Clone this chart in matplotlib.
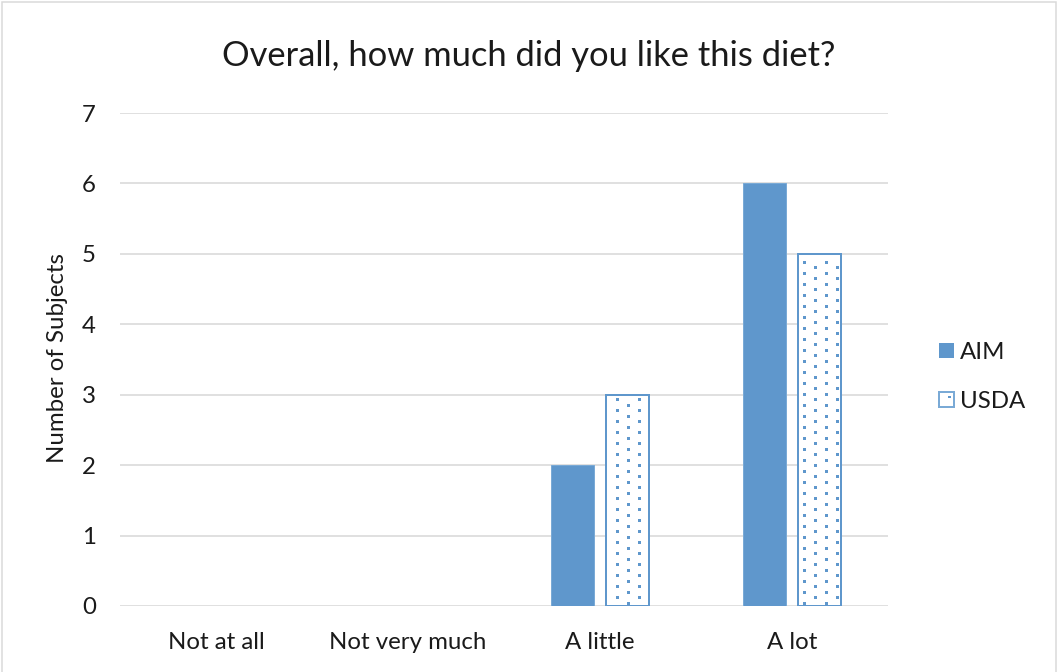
import matplotlib
matplotlib.use("Agg")
import matplotlib.pyplot as plt
from matplotlib.patches import Rectangle
from matplotlib.legend_handler import HandlerBase
import numpy as np

# Survey data
categories = ["Not at all", "Not very much", "A little", "A lot"]
aim_counts = [0, 0, 2, 6]
usda_counts = [0, 0, 3, 5]
series_names = ["AIM", "USDA"]
y_ticks = [0, 1, 2, 3, 4, 5, 6, 7]
title = "Overall, how much did you like this diet?"
y_label = "Number of Subjects"

DPI = 100
W, H = 1058, 672


def px(size):
    """Convert a pixel size to points at the figure dpi."""
    return size * 72.0 / DPI


BLUE = "#5F97CC"
LIGHT_BLUE = "#7AAAD6"
GRID = "#D9D9D9"
TEXT = "#1A1A1A"
FONT = "Lato"

plt.rcParams["font.family"] = [FONT, "DejaVu Sans"]

fig = plt.figure(figsize=(W / DPI, H / DPI), dpi=DPI)
fig.patch.set_facecolor("white")

# Outer chart frame
fig.patches.append(Rectangle((2 / W, -0.01), 1 - 4 / W, 1.01 - 2 / H,
                             transform=fig.transFigure, fill=False,
                             edgecolor=GRID, linewidth=px(1.5), zorder=0))

left, right = 120 / W, 888 / W
bottom, top = 1 - 606 / H, 1 - 113 / H
ax = fig.add_axes([left, bottom, right - left, top - bottom])

x = np.arange(len(categories))
bar_w = 0.22
offset = 0.143

aim_bars = ax.bar(x - offset, aim_counts, width=bar_w, color=BLUE,
                  edgecolor=LIGHT_BLUE, linewidth=px(1.0), zorder=3)
usda_bars = ax.bar(x + offset, usda_counts, width=bar_w, facecolor="white",
                   edgecolor=BLUE, linewidth=px(2.0), zorder=3)

# empty categories get no outline
for bars in (aim_bars, usda_bars):
    for patch in bars.patches:
        if patch.get_height() == 0:
            patch.set_visible(False)

ax.set_xlim(-0.5, len(categories) - 0.5)
ax.set_ylim(0, 7)
ax.set_yticks(y_ticks)
ax.set_yticklabels([str(v) for v in y_ticks])
ax.set_xticks(x)
ax.set_xticklabels(categories)

ax.grid(axis="y", color=GRID, linewidth=px(1.6), zorder=0)
ax.set_axisbelow(True)
for s in ax.spines.values():
    s.set_visible(False)
ax.tick_params(axis="both", length=0, labelsize=px(24), colors=TEXT)
ax.tick_params(axis="y", pad=px(24))
ax.tick_params(axis="x", pad=px(26))

# Dotted fill for the USDA bars: columns 11 px apart, alternate columns
# shifted by half a step, clipped to each bar's interior.
fig.canvas.draw()
step = 11.0
inset = 3.0
to_data = ax.transData.inverted()
for patch in usda_bars.patches:
    if not patch.get_visible():
        continue
    bb = patch.get_window_extent()
    x0, x1 = bb.x0 + inset, bb.x1 - inset
    y0, y1 = bb.y0 + inset, bb.y1 - inset
    pts = []
    k0 = int(np.floor(x0 / step))
    k1 = int(np.ceil(x1 / step))
    for k in range(k0, k1 + 1):
        cx = k * step + 1.0
        if not (x0 <= cx <= x1):
            continue
        phase = 3.0 if k % 2 == 0 else 8.5
        # rows measured from the top of the image
        ys_img = np.arange(phase, H, step)
        ys = H - ys_img
        for cy in ys:
            if y0 <= cy <= y1:
                pts.append((cx, cy))
    if pts:
        d = to_data.transform(np.array(pts))
        ax.scatter(d[:, 0], d[:, 1], s=px(3.0) ** 2, marker="s", color=BLUE,
                   linewidths=0, zorder=4, clip_on=False)

fig.text(529 / W, 1 - 56 / H, title, ha="center", va="center",
         fontsize=px(34.5), color=TEXT)
fig.text(57 / W, 1 - 358 / H, y_label, ha="center", va="center",
         rotation=90, fontsize=px(24), color=TEXT)


class SquareHandler(HandlerBase):
    """Legend key drawn as a small square, optionally with one dot."""

    def __init__(self, face, edge, dotted):
        super().__init__()
        self.face, self.edge, self.dotted = face, edge, dotted

    def create_artists(self, legend, orig_handle, xdescent, ydescent,
                       width, height, fontsize, trans):
        size = min(width, height)
        x0 = -xdescent + (width - size) / 2
        y0 = -ydescent + (height - size) / 2
        arts = [Rectangle((x0, y0), size, size, facecolor=self.face,
                          edgecolor=self.edge,
                          linewidth=px(2.0) if self.dotted else 0,
                          transform=trans)]
        if self.dotted:
            d = size * 0.18
            arts.append(Rectangle((x0 + size * 0.6, y0 + size * 0.56), d, d,
                                  facecolor=BLUE, linewidth=0, transform=trans))
        return arts


h_aim = Rectangle((0, 0), 1, 1)
h_usda = Rectangle((0, 0), 1, 1)
fig.legend([h_aim, h_usda], series_names, loc="center left",
           bbox_to_anchor=(939 / W, 1 - 377 / H), frameon=False,
           fontsize=px(24), handlelength=0.62, handleheight=0.62,
           handletextpad=0.25, labelspacing=1.15, borderpad=0,
           borderaxespad=0, labelcolor=TEXT,
           handler_map={h_aim: SquareHandler(BLUE, BLUE, False),
                        h_usda: SquareHandler("white", LIGHT_BLUE, True)})

fig.savefig("out.png", dpi=DPI, facecolor="white")
